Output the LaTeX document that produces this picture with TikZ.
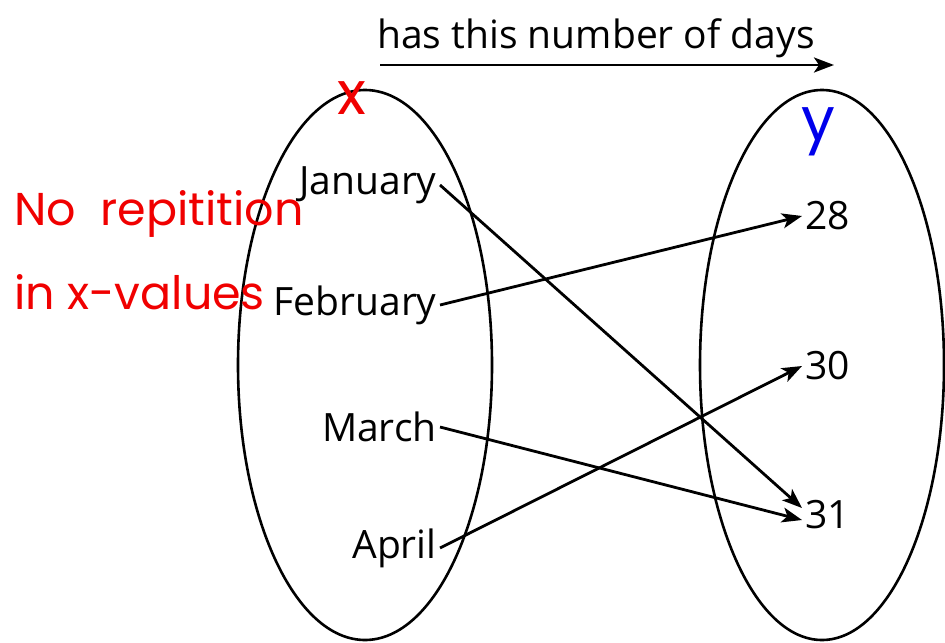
\documentclass[tikz,border=0pt]{standalone}
\usepackage{fontspec}
\setmainfont{Open Sans}
\newfontfamily\handfont{Poppins}
\usetikzlibrary{positioning,arrows.meta,shapes.geometric}
\usepackage{xcolor}
\definecolor{inkred}{RGB}{240,0,0}
\definecolor{inkblue}{RGB}{0,0,235}

\begin{document}
\begin{tikzpicture}[
    x=0.5pt, y=-0.5pt,
    set/.style={draw, ellipse, line width=1.3pt, inner sep=0pt},
    month/.style={anchor=east, inner sep=1.5pt, font=\fontsize{19.5}{22}\selectfont},
    days/.style={anchor=west, inner sep=1.5pt, font=\fontsize{19.5}{22}\selectfont},
    arrow/.style={-{Stealth[length=10pt, width=7.5pt, inset=2.5pt]}, line width=1.4pt},
    note/.style={text=inkred, font=\handfont\fontsize{23}{26}\selectfont, inner sep=0pt}
]
    \useasboundingbox (0,0) rectangle (945,642);

    % the two sets
    \node[set, minimum width=127pt, minimum height=275pt] (setx) at (365,365) {};
    \node[set, minimum width=122pt, minimum height=275pt] (sety) at (822,365) {};

    % relation arrow on top
    \coordinate (top1) at (380,65);
    \coordinate (top2) at (834,65);
    \draw[arrow] (top1) -- (top2);
    \node[font=\fontsize{19.5}{22}\selectfont] (rel) at (596,38) {has this number of days};

    % x-values
    \node[month] (jan) at (440,185) {January};
    \node[month] (feb) at (440,305) {February};
    \node[month] (mar) at (440,427) {March};
    \node[month] (apr) at (440,548) {April};

    % y-values
    \node[days] (d28) at (802,216) {28};
    \node[days] (d30) at (802,366) {30};
    \node[days] (d31) at (802,515) {31};

    \draw[arrow] (jan.east) -- ([yshift=3.5pt]d31.west);
    \draw[arrow] (feb.east) -- (d28.west);
    \draw[arrow] (mar.east) -- ([yshift=-2.5pt]d31.west);
    \draw[arrow] (apr.east) -- (d30.west);

    % notes in red and blue
    \node[note, font=\handfont\fontsize{30}{30}\selectfont] (xlab) at (352,98) {x};
    \node[text=inkblue, font=\handfont\fontsize{30}{30}\selectfont, inner sep=0pt] (ylab) at (818,132) {y};
    \node[note, anchor=west] (note1) at (14,214) {No\ \ repitition};
    \node[note, anchor=west] (note2) at (14,292) {in x-values};
\end{tikzpicture}
\end{document}
